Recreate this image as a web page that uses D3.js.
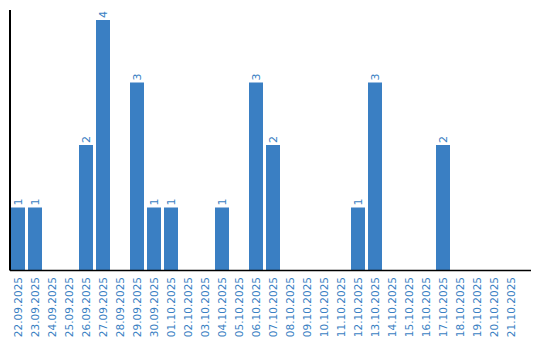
<!DOCTYPE html>
<html><head><meta charset="utf-8">
<script src="https://cdn.jsdelivr.net/npm/d3@7"></script>
<style>body{margin:0;background:#fff}svg{display:block}</style>
</head><body>
<svg id="c" width="540" height="340"></svg>
<script>
const categories = ["22.09.2025","23.09.2025","24.09.2025","25.09.2025","26.09.2025","27.09.2025","28.09.2025","29.09.2025","30.09.2025","01.10.2025","02.10.2025","03.10.2025","04.10.2025","05.10.2025","06.10.2025","07.10.2025","08.10.2025","09.10.2025","10.10.2025","11.10.2025","12.10.2025","13.10.2025","14.10.2025","15.10.2025","16.10.2025","17.10.2025","18.10.2025","19.10.2025","20.10.2025","21.10.2025"];
const values = [1,1,0,0,2,4,0,3,1,1,0,0,1,0,3,2,0,0,0,0,1,3,0,0,0,2,0,0,0,0];

const color = "#3a7fc3";
const svg = d3.select("#c");
const x0 = 11, y0 = 270;
const x = d3.scaleBand().domain(categories).range([x0, x0 + 17*categories.length - 3]).paddingInner(3/17).paddingOuter(0);
const y = d3.scaleLinear().domain([0, 4]).range([y0, 20]);

svg.append("g").selectAll("rect").data(categories).join("rect")
  .attr("x", d => x(d))
  .attr("width", x.bandwidth())
  .attr("y", (d,i) => y(values[i]))
  .attr("height", (d,i) => y0 - y(values[i]))
  .attr("fill", color);

svg.append("g").selectAll("text").data(categories.filter((d,i) => values[i] > 0)).join("text")
  .attr("transform", d => { const v = values[categories.indexOf(d)]; return `translate(${x(d) + x.bandwidth()/2 + 4},${y(v) - 2}) rotate(-90)`; })
  .attr("font-family", "DejaVu Sans, Verdana, sans-serif")
  .attr("font-size", 11)
  .attr("fill", color)
  .text(d => values[categories.indexOf(d)]);

const ax = svg.append("g").attr("transform", `translate(0,${y0})`)
  .call(d3.axisBottom(x).tickSize(0).tickPadding(0));
ax.select(".domain").remove();
ax.selectAll("text")
  .attr("font-family", "DejaVu Sans, Verdana, sans-serif")
  .attr("font-size", 10.5)
  .attr("fill", color)
  .attr("text-anchor", "end")
  .attr("dy", null)
  .attr("y", 0)
  .attr("transform", "translate(4,7) rotate(-90)");

svg.append("line").attr("x1", 10).attr("x2", 10).attr("y1", 10).attr("y2", y0 + 0.5).attr("stroke", "#000").attr("stroke-width", 2);
svg.append("line").attr("x1", 10).attr("x2", 531).attr("y1", y0 + 0.5).attr("y2", y0 + 0.5).attr("stroke", "#000").attr("stroke-width", 1.5);
</script>
</body></html>
